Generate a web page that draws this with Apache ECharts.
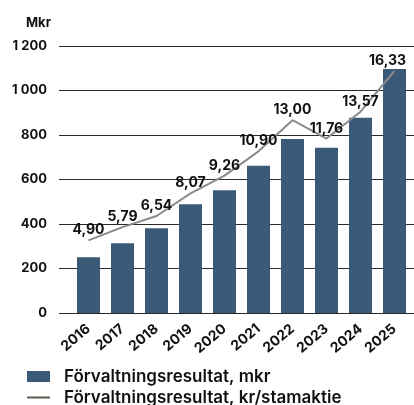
<!DOCTYPE html>
<html>
<head>
<meta charset="utf-8">
<script src="https://cdn.jsdelivr.net/npm/echarts@6/dist/echarts.min.js"></script>
<style>
  html, body { margin: 0; padding: 0; background: #fff; }
  #chart { width: 414px; height: 405px; }
</style>
</head>
<body>
<div id="chart"></div>
<script>
// data
var years = ['2016', '2017', '2018', '2019', '2020', '2021', '2022', '2023', '2024', '2025'];
var resultMkr = [251, 314, 381, 489, 552, 662, 782, 743, 878, 1097];
var resultPerShare = [4.90, 5.79, 6.54, 8.07, 9.26, 10.90, 13.00, 11.76, 13.57, 16.33];
var yTicks = [0, 200, 400, 600, 800, 1000, 1200];
var barName = 'Förvaltningsresultat, mkr';
var lineName = 'Förvaltningsresultat, kr/stamaktie';

var FONT = 'Inter';
var chart = echarts.init(document.getElementById('chart'));

// sv formatting: "1 200", "4,90"
function fmtThousands(v) {
  return String(v).replace(/\B(?=(\d{3})+(?!\d))/g, ' ');
}
function fmtDec(v) {
  return v.toFixed(2).replace('.', ',');
}

var legendText = { fontFamily: FONT, fontSize: 17, fontWeight: 600, color: '#111', padding: [0, 0, 0, 9] };

// last label is nudged left so it stays inside the picture
var lineData = resultPerShare.map(function (v, i) {
  if (i === resultPerShare.length - 1) {
    return { value: v, label: { offset: [-7, 0] } };
  }
  return v;
});

var option = {
  animation: false,
  textStyle: { fontFamily: FONT },
  title: {
    text: 'Mkr',
    left: 21,
    top: 12,
    textStyle: { fontFamily: FONT, fontSize: 13, fontWeight: 700, color: '#111' }
  },
  legend: [
    {
      left: 27,
      top: 368,
      padding: 0,
      itemWidth: 23,
      itemHeight: 11,
      textStyle: legendText,
      data: [{ name: barName, icon: 'rect' }]
    },
    {
      left: 27,
      top: 389,
      padding: 0,
      itemWidth: 23,
      itemHeight: 11,
      textStyle: legendText,
      data: [{ name: lineName, icon: 'path://M0,0 L23,0 L23,2 L0,2 Z', itemStyle: { color: '#5c5c52' } }]
    }
  ],
  grid: [
    // gridlines span the full width
    { left: 59, right: 0, top: 46, bottom: 92 },
    // bars sit a bit further in
    { left: 71.5, right: 2.5, top: 46, bottom: 92 }
  ],
  xAxis: [
    { type: 'category', gridIndex: 0, data: years, show: false },
    {
      type: 'category',
      gridIndex: 1,
      data: years,
      axisLine: { show: false },
      axisTick: { show: false },
      axisLabel: {
        rotate: 40,
        margin: 14,
        padding: [12, 0, 0, 0],
        fontFamily: FONT,
        fontSize: 14,
        fontWeight: 700,
        color: '#111'
      }
    }
  ],
  yAxis: [
    {
      type: 'value',
      gridIndex: 0,
      min: 0,
      max: 1200,
      interval: 200,
      axisLine: { show: false },
      axisTick: { show: false },
      splitLine: { lineStyle: { color: '#2a2a2a', width: 1 } },
      axisLabel: {
        margin: 12,
        fontFamily: FONT,
        fontSize: 13,
        fontWeight: 700,
        color: '#111',
        formatter: function (v) { return yTicks.indexOf(v) >= 0 ? fmtThousands(v) : ''; }
      }
    },
    { type: 'value', gridIndex: 1, min: 0, max: 1200, show: false, splitLine: { show: false } },
    { type: 'value', gridIndex: 1, min: 0, max: 18, show: false, splitLine: { show: false } }
  ],
  series: [
    {
      name: barName,
      type: 'bar',
      xAxisIndex: 1,
      yAxisIndex: 1,
      barWidth: 23,
      itemStyle: { color: '#3b5a78' },
      data: resultMkr
    },
    {
      name: lineName,
      type: 'line',
      xAxisIndex: 1,
      yAxisIndex: 2,
      symbol: 'circle',
      symbolSize: 0.1,
      showSymbol: true,
      lineStyle: { color: '#8a8a8a', width: 2 },
      itemStyle: { color: '#8a8a8a' },
      label: {
        show: true,
        position: 'top',
        distance: 3,
        fontFamily: FONT,
        fontSize: 14,
        fontWeight: 700,
        color: '#111',
        formatter: function (p) { return fmtDec(p.value); }
      },
      z: 3,
      data: lineData
    }
  ]
};

chart.setOption(option);
</script>
</body>
</html>
